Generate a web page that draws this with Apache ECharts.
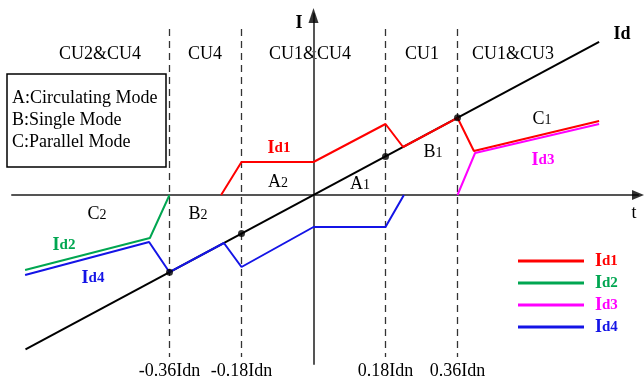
<!DOCTYPE html>
<html>
<head>
<meta charset="utf-8">
<script src="https://cdn.jsdelivr.net/npm/echarts@6/dist/echarts.min.js"></script>
<style>
html,body{margin:0;padding:0;background:#fff;}
#c{width:644px;height:383px;}
</style>
</head>
<body>
<div id="c"></div>
<script>
// ---- data (x in Idn units, y in same scaled units) ----
const idnTicks = [-0.36, -0.18, 0.18, 0.36];
const idLine = [[-0.72, -0.386], [0.714, 0.383]];
const idDots = [[-0.36, -0.193], [-0.18, -0.0965], [0.18, 0.0965], [0.36, 0.193]];
const id1 = [[-0.231, 0], [-0.18, 0.0825], [0, 0.0825], [0.18, 0.1775], [0.224, 0.12], [0.36, 0.193], [0.401, 0.11], [0.714, 0.185]];
const id2 = [[-0.36, 0], [-0.409, -0.1075], [-0.721, -0.1875]];
const id3 = [[0.36, 0], [0.404, 0.105], [0.714, 0.1775]];
const id4 = [[-0.721, -0.2], [-0.411, -0.1175], [-0.36, -0.193], [-0.224, -0.12], [-0.18, -0.18], [0, -0.08], [0.18, -0.08], [0.226, 0]];
const dashTop = 0.415, dashBottom = -0.405;
const seriesNames = ['Id1', 'Id2', 'Id3', 'Id4'];
const seriesColors = ['#ff0000', '#00a651', '#ff00ff', '#1414e6'];

const XMIN = -0.75375, XMAX = 0.81125, YMIN = -0.4225, YMAX = 0.4525;
const PX = 1 / 400; // one pixel in data units
const SERIF = '"Liberation Serif", "Times New Roman", serif';

const chart = echarts.init(document.getElementById('c'));

const dashSeries = idnTicks.map(x => ({
  type: 'line', xAxisIndex: 0, yAxisIndex: 0, symbol: 'none', silent: true,
  data: [[x, dashTop], [x, dashBottom]],
  lineStyle: {color: '#333', width: 1.3, type: [7, 5]}, z: 1
}));

const richId = {
  I: {fontSize: 18, fontWeight: 'bold', fontFamily: SERIF},
  d: {fontSize: 15, fontWeight: 'bold', fontFamily: SERIF}
};

function txt(x, y, text, opts) {
  opts = opts || {};
  return {
    type: 'text', x: x, y: y, silent: true,
    style: Object.assign({
      text: text, fontSize: 18, fontFamily: SERIF, fill: '#000',
      align: 'center', verticalAlign: 'middle'
    }, opts)
  };
}
function idTxt(x, y, num, color) {
  return {
    type: 'text', x: x, y: y, silent: true,
    style: {
      text: '{I|I}{d|d' + num + '}', fill: color, align: 'center', verticalAlign: 'middle',
      rich: {
        I: {fontSize: 18, fontWeight: 'bold', fontFamily: SERIF, fill: color},
        d: {fontSize: 15, fontWeight: 'bold', fontFamily: SERIF, fill: color}
      }
    }
  };
}
function subTxt(x, y, a, b) {
  return {
    type: 'text', x: x, y: y, silent: true,
    style: {
      text: '{a|' + a + '}{b|' + b + '}', fill: '#000', align: 'center', verticalAlign: 'middle',
      rich: {
        a: {fontSize: 18, fontFamily: SERIF, fill: '#000'},
        b: {fontSize: 14, fontFamily: SERIF, fill: '#000', padding: [3, 0, 0, 0]}
      }
    }
  };
}

const option = {
  animation: false,
  backgroundColor: '#fff',
  grid: {left: 12, right: 6, top: 14, bottom: 19},
  xAxis: [{
    type: 'value', min: XMIN, max: XMAX,
    axisLine: {onZero: true, lineStyle: {color: '#555', width: 2}},
    axisTick: {show: false}, axisLabel: {show: false}, splitLine: {show: false}
  }, {
    type: 'value', min: XMIN, max: XMAX, position: 'bottom', offset: -2,
    axisLine: {show: false, onZero: false}, axisTick: {show: false}, splitLine: {show: false},
    axisLabel: {
      customValues: idnTicks, fontSize: 18, fontFamily: SERIF, color: '#000', margin: 0,
      formatter: v => v.toFixed(2) + 'Idn'
    }
  }],
  yAxis: {
    type: 'value', min: YMIN, max: YMAX,
    axisLine: {onZero: true, lineStyle: {color: '#555', width: 2}},
    axisTick: {show: false}, axisLabel: {show: false}, splitLine: {show: false}
  },
  legend: {
    orient: 'vertical', left: 513, top: 247, itemWidth: 66, itemHeight: 3, itemGap: 4,
    icon: 'rect', padding: 5,
    data: seriesNames.map((n, i) => ({
      name: n, itemStyle: {color: seriesColors[i]},
      textStyle: {color: seriesColors[i], rich: {
        I: Object.assign({}, richId.I, {color: seriesColors[i]}),
        d: Object.assign({}, richId.d, {color: seriesColors[i]})
      }}
    })),
    formatter: n => '{I|I}{d|' + n.slice(1) + '}',
    textStyle: {padding: [0, 0, 0, 6]},
    selectedMode: false
  },
  graphic: [
    {type: 'rect', shape: {x: 7, y: 74, width: 159, height: 93}, style: {fill: 'none', stroke: '#000', lineWidth: 1.5}, silent: true},
    txt(12, 98, 'A:Circulating Mode', {align: 'left'}),
    txt(12, 120, 'B:Single Mode', {align: 'left'}),
    txt(12, 142, 'C:Parallel Mode', {align: 'left'}),
    txt(100, 54, 'CU2&CU4'),
    txt(205, 54, 'CU4'),
    txt(310, 54, 'CU1&CU4'),
    txt(422, 54, 'CU1'),
    txt(513, 54, 'CU1&CU3'),
    txt(299, 23, 'I', {fontWeight: 'bold'}),
    txt(622, 34, 'Id', {fontWeight: 'bold'}),
    txt(634, 213, 't'),
    subTxt(278, 182, 'A', '2'),
    subTxt(360, 184, 'A', '1'),
    subTxt(433, 152, 'B', '1'),
    subTxt(542, 119, 'C', '1'),
    subTxt(97, 214, 'C', '2'),
    subTxt(198, 214, 'B', '2'),
    idTxt(279, 148, '1', '#ff0000'),
    idTxt(543, 160, '3', '#ff00ff'),
    idTxt(64, 245, '2', '#00a651'),
    idTxt(93, 278, '4', '#1414e6')
  ],
  series: dashSeries.concat([
    {type: 'line', name: 'Id', xAxisIndex: 0, symbol: 'none', data: idLine, lineStyle: {color: '#000', width: 2}, z: 2, silent: true},
    {type: 'line', name: 'Id1', xAxisIndex: 0, symbol: 'none', data: id1, lineStyle: {color: seriesColors[0], width: 2}, itemStyle: {color: seriesColors[0]}, z: 4},
    {type: 'line', name: 'Id2', xAxisIndex: 0, symbol: 'none', data: id2, lineStyle: {color: seriesColors[1], width: 2}, itemStyle: {color: seriesColors[1]}, z: 4},
    {type: 'line', name: 'Id3', xAxisIndex: 0, symbol: 'none', data: id3, lineStyle: {color: seriesColors[2], width: 2}, itemStyle: {color: seriesColors[2]}, z: 4},
    {type: 'line', name: 'Id4', xAxisIndex: 0, symbol: 'none', data: id4, lineStyle: {color: seriesColors[3], width: 2}, itemStyle: {color: seriesColors[3]}, z: 4},
    {type: 'scatter', name: 'dots', xAxisIndex: 0, data: idDots, symbolSize: 7, itemStyle: {color: '#000'}, z: 5, silent: true},
    // axis arrow heads (solid black triangles at the axis tips)
    {type: 'scatter', name: 'xArrow', xAxisIndex: 0, data: [[XMAX, 0]], symbol: 'triangle', symbolSize: [10, 12], symbolRotate: -90, itemStyle: {color: '#000'}, z: 6, silent: true},
    {type: 'scatter', name: 'yArrow', xAxisIndex: 0, data: [[0, YMAX - 1.5 * PX]], symbol: 'triangle', symbolSize: [10, 15], itemStyle: {color: '#000'}, z: 6, silent: true}
  ])
};
chart.setOption(option);
</script>
</body>
</html>
